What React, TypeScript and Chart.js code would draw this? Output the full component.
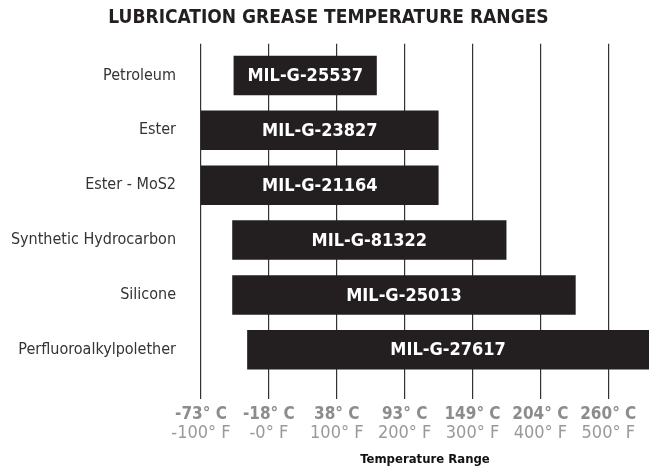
import React, { useEffect, useRef } from 'react';
import { Chart, registerables } from 'chart.js';

Chart.register(...registerables);

const chartTitle = 'LUBRICATION GREASE TEMPERATURE RANGES';
const axisTitle = 'Temperature Range';
const categories = ['Petroleum', 'Ester', 'Ester - MoS2', 'Synthetic Hydrocarbon', 'Silicone', 'Perfluoroalkylpolether'];
const specCodes = ['MIL-G-25537', 'MIL-G-23827', 'MIL-G-21164', 'MIL-G-81322', 'MIL-G-25013', 'MIL-G-27617'];
const lowF = [-52, -100, -100, -54, -54, -32];
const highF = [159, 250, 250, 350, 452, 560];
const tickValuesF = [-100, 0, 100, 200, 300, 400, 500];
const celsiusLabels = ['-73° C', '-18° C', '38° C', '93° C', '149° C', '204° C', '260° C'];
const fahrenheitLabels = ['-100° F', '-0° F', '100° F', '200° F', '300° F', '400° F', '500° F'];
const axisMinF = -100;
const axisMaxF = 560;

const FONT = "'Liberation Sans Narrow', 'DejaVu Sans Condensed', 'Arial Narrow', 'Liberation Sans', sans-serif";

const barLabelPlugin = {
  id: 'barLabels',
  afterDatasetsDraw(chart: any) {
    const { ctx, chartArea } = chart;
    const meta = chart.getDatasetMeta(0);
    ctx.save();
    ctx.fillStyle = '#ffffff';
    ctx.font = `bold 18px ${FONT}`;
    ctx.textAlign = 'center';
    ctx.textBaseline = 'middle';
    meta.data.forEach((bar: any, i: number) => {
      const { x, base, y } = bar.getProps(['x', 'base', 'y'], true);
      const l = Math.max(Math.min(x, base), chartArea.left);
      const r = Math.min(Math.max(x, base), chartArea.right);
      ctx.fillText(specCodes[i], (l + r) / 2, y + 1);
    });
    ctx.restore();
  },
};

const tickList = () => tickValuesF.map((v) => ({ value: v }));

export default function App() {
  const ref = useRef<HTMLCanvasElement | null>(null);

  useEffect(() => {
    if (!ref.current) return;
    const chart = new Chart(ref.current, {
      type: 'bar',
      data: {
        datasets: [
          {
            data: categories.map((_, i) => ({ x: [lowF[i], highF[i]], y: i })) as any,
            backgroundColor: '#231f20',
            borderWidth: 0,
            categoryPercentage: 1,
            barPercentage: 0.72,
          },
        ],
      },
      options: {
        indexAxis: 'y',
        animation: false,
        responsive: false,
        maintainAspectRatio: false,
        layout: { padding: { left: 8, right: 0, top: 0, bottom: 0 } },
        plugins: {
          legend: { display: false },
          tooltip: { enabled: false },
          title: {
            display: true,
            text: chartTitle,
            color: '#231f20',
            font: { family: FONT, size: 19, weight: 'bold', lineHeight: 1.2 },
            padding: { top: 7, bottom: 14 },
          },
        },
        scales: {
          y: {
            type: 'linear',
            reverse: true,
            offset: false,
            min: -0.576,
            max: 5.897,
            afterBuildTicks: (scale: any) => {
              scale.ticks = categories.map((_, i) => ({ value: i }));
            },
            afterFit: (scale: any) => {
              scale.width = 193;
            },
            grid: { display: false, drawTicks: false, offset: false },
            border: { display: false },
            ticks: {
              padding: 25,
              color: '#333333',
              font: { family: FONT, size: 16 },
              callback: (v: any) => categories[Number(v)] ?? '',
            },
          },
          x: {
            type: 'linear',
            position: 'bottom',
            min: axisMinF,
            max: axisMaxF,
            afterBuildTicks: (scale: any) => {
              scale.ticks = tickList();
            },
            afterFit: (scale: any) => {
              scale.height = 25;
            },
            grid: { color: '#333333', lineWidth: 1.2, drawTicks: false },
            border: { display: false },
            ticks: {
              padding: 6,
              color: '#8c8c8c',
              maxRotation: 0,
              autoSkip: false,
              font: { family: FONT, size: 17, weight: 'bold', lineHeight: 1.1 },
              callback: (v: any) => celsiusLabels[tickValuesF.indexOf(Number(v))] ?? '',
            },
          },
          x2: {
            type: 'linear',
            position: 'bottom',
            min: axisMinF,
            max: axisMaxF,
            afterBuildTicks: (scale: any) => {
              scale.ticks = tickList();
            },
            afterFit: (scale: any) => {
              scale.height = 44;
            },
            grid: { display: false, drawTicks: false },
            border: { display: false },
            ticks: {
              padding: 0,
              color: '#999999',
              maxRotation: 0,
              autoSkip: false,
              font: { family: FONT, size: 18, lineHeight: 1 },
              callback: (v: any) => fahrenheitLabels[tickValuesF.indexOf(Number(v))] ?? '',
            },
            title: {
              display: true,
              text: axisTitle,
              color: '#111111',
              font: { family: FONT, size: 13, weight: 'bold', lineHeight: 1.2 },
              padding: { top: 9, bottom: 1 },
            },
          },
        },
      } as any,
      plugins: [barLabelPlugin],
    });
    return () => chart.destroy();
  }, []);

  return (
    <div style={{ position: 'absolute', left: 0, top: 0, width: 649, height: 468, background: '#fff' }}>
      <canvas ref={ref} width={649} height={468} style={{ width: 649, height: 468, display: 'block' }} />
    </div>
  );
}
